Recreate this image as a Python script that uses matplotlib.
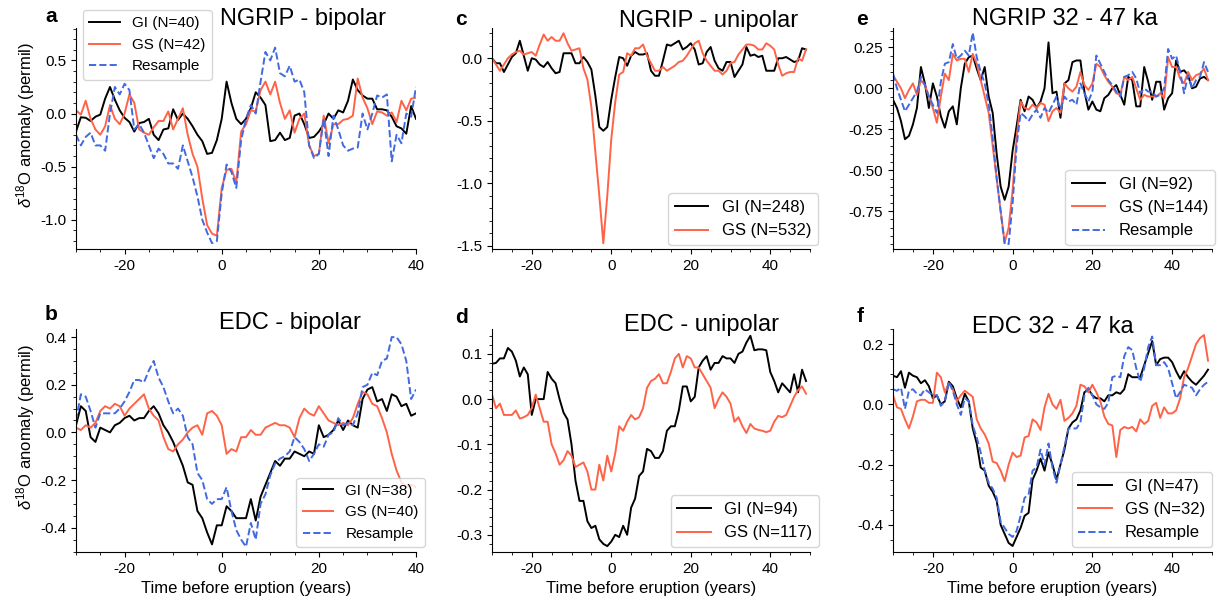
import numpy as np
import matplotlib
matplotlib.use("Agg")
import matplotlib.pyplot as plt
from matplotlib.ticker import AutoMinorLocator, MultipleLocator

plt.rcParams["font.family"] = ["Liberation Sans", "DejaVu Sans"]
plt.rcParams["mathtext.fontset"] = "custom"
plt.rcParams["mathtext.rm"] = "Liberation Sans"
plt.rcParams["mathtext.it"] = "Liberation Sans:italic"
plt.rcParams["axes.unicode_minus"] = False

# years relative to eruption
t_ab = np.arange(-30, 41)
t_cf = np.arange(-30, 50)

# a: NGRIP bipolar
a_gi = [-0.17, -0.035, -0.04, -0.07, -0.03, -0.01, 0.14, 0.25, 0.13, 0.03,
        -0.04, -0.08, -0.17, -0.09, -0.08, -0.05, -0.2, -0.25, -0.15, -0.14,
        0.04, -0.06, 0.0, -0.05, -0.12, -0.2, -0.26, -0.38, -0.37, -0.25,
        -0.05, 0.3, 0.1, -0.05, -0.1, -0.05, 0.05, 0.2, 0.15, 0.08,
        -0.26, -0.25, -0.18, -0.25, -0.23, -0.02, 0.0, -0.1, -0.23, -0.22,
        -0.17, -0.1, 0.0, -0.05, 0.03, 0.01, 0.12, 0.32, 0.22, 0.17,
        0.14, 0.14, 0.04, 0.04, 0.03, -0.03, -0.12, -0.14, -0.19, 0.07, -0.05]
a_gs = [0.03, -0.01, 0.12, -0.05, -0.15, -0.2, -0.12, 0.08, -0.05, -0.1,
        0.0, 0.18, 0.1, -0.15, -0.18, -0.2, -0.13, -0.07, -0.07, 0.02,
        -0.15, -0.05, 0.05, -0.2, -0.38, -0.5, -0.8, -1.05, -1.13, -1.15,
        -0.7, -0.53, -0.52, -0.65, -0.17, -0.1, 0.03, 0.02, 0.22, 0.3,
        0.18, 0.3, 0.1, -0.05, 0.03, -0.18, -0.05, 0.0, -0.3, -0.4,
        -0.38, -0.02, -0.28, -0.1, -0.1, -0.06, -0.05, -0.02, 0.33, 0.15,
        0.05, -0.1, 0.02, 0.01, -0.02, 0.01, -0.08, 0.12, 0.03, 0.14, 0.15]
a_rs = [-0.2, -0.3, -0.22, -0.18, -0.3, -0.3, -0.35, 0.0, 0.25, 0.18,
        0.28, 0.22, -0.15, -0.1, -0.18, -0.3, -0.42, -0.33, -0.38, -0.47,
        -0.47, -0.52, -0.3, -0.45, -0.6, -0.78, -1.0, -1.12, -1.22, -1.2,
        -0.75, -0.48, -0.55, -0.7, -0.25, -0.05, 0.08, 0.0, 0.3, 0.58,
        0.5, 0.62, 0.38, 0.35, 0.45, 0.3, 0.32, 0.2, -0.3, -0.42,
        -0.38, -0.05, -0.4, -0.02, -0.15, -0.3, -0.35, -0.33, -0.32, 0.0,
        -0.15, 0.0, 0.17, 0.15, 0.18, -0.45, -0.2, -0.28, 0.0, -0.03, 0.25]

# b: EDC bipolar
b_gi = [0.03, 0.11, 0.09, -0.02, -0.04, 0.02, 0.01, 0.0, 0.03, 0.04,
        0.06, 0.07, 0.05, 0.06, 0.06, 0.09, 0.11, 0.08, 0.03, 0.0,
        -0.04, -0.09, -0.14, -0.21, -0.22, -0.33, -0.36, -0.42, -0.47, -0.39,
        -0.39, -0.31, -0.33, -0.36, -0.36, -0.36, -0.28, -0.37, -0.27, -0.22,
        -0.17, -0.12, -0.14, -0.11, -0.11, -0.08, -0.09, -0.1, -0.08, -0.09,
        0.03, -0.02, -0.01, 0.01, 0.05, 0.01, 0.05, 0.03, 0.02, 0.14,
        0.18, 0.19, 0.13, 0.14, 0.09, 0.16, 0.15, 0.11, 0.12, 0.07, 0.08]
b_gs = [0.02, 0.01, 0.03, 0.02, 0.04, 0.09, 0.11, 0.1, 0.12, 0.11,
        0.07, 0.1, 0.12, 0.14, 0.16, 0.1, 0.07, 0.05, -0.02, -0.07,
        -0.08, -0.05, -0.03, 0.0, 0.02, 0.03, -0.01, 0.08, 0.09, 0.07,
        0.03, -0.09, -0.07, -0.08, -0.02, -0.02, 0.01, -0.01, -0.01, 0.02,
        0.03, 0.04, 0.03, 0.03, 0.02, -0.02, 0.06, 0.1, 0.08, 0.07,
        0.11, 0.08, 0.05, 0.04, 0.03, 0.04, 0.03, 0.06, 0.12, 0.17,
        0.16, 0.12, 0.11, 0.06, 0.0, -0.09, -0.16, -0.21, -0.23, -0.22, -0.23]
b_rs = [0.05, 0.16, 0.15, 0.09, 0.02, 0.08, 0.08, 0.08, 0.08, 0.1,
        0.13, 0.17, 0.22, 0.22, 0.21, 0.26, 0.3, 0.23, 0.19, 0.13,
        0.08, 0.1, 0.07, -0.02, -0.05, -0.17, -0.2, -0.28, -0.3, -0.28,
        -0.28, -0.23, -0.33, -0.41, -0.45, -0.48, -0.38, -0.45, -0.3, -0.26,
        -0.18, -0.13, -0.11, -0.1, -0.08, -0.02, -0.04, -0.07, -0.12, -0.09,
        -0.05, -0.06, -0.01, 0.0, 0.06, 0.03, 0.04, 0.03, 0.08, 0.19,
        0.2, 0.25, 0.24, 0.3, 0.31, 0.4, 0.4, 0.37, 0.3, 0.14, 0.18]

# c: NGRIP unipolar
c_gi = [0.0, -0.04, -0.04, -0.11, -0.05, 0.01, 0.04, 0.14, 0.02, -0.1,
        0.0, -0.01, -0.05, -0.07, -0.03, -0.08, -0.12, -0.11, 0.04, 0.04,
        0.04, -0.04, -0.04, 0.01, -0.03, -0.09, -0.3, -0.55, -0.58, -0.55,
        -0.33, -0.15, 0.01, 0.0, -0.06, 0.02, 0.05, 0.03, 0.03, 0.04,
        -0.1, -0.14, -0.14, -0.02, 0.11, 0.1, 0.12, 0.14, 0.07, 0.09,
        0.12, 0.07, -0.05, -0.04, 0.05, 0.09, -0.02, -0.08, -0.1, -0.03,
        -0.03, -0.15, -0.1, -0.05, 0.09, 0.02, 0.03, 0.01, 0.02, -0.1,
        -0.1, -0.1, 0.0, 0.0, 0.01, -0.01, -0.03, -0.02, 0.08, 0.07]
c_gs = [0.0, -0.05, -0.1, -0.05, 0.0, 0.03, 0.05, 0.06, 0.03, 0.04,
        0.05, 0.02, 0.11, 0.19, 0.14, 0.17, 0.14, 0.14, 0.2, 0.12,
        0.06, 0.07, 0.08, -0.08, -0.17, -0.39, -0.75, -1.1, -1.48, -1.1,
        -0.65, -0.35, -0.13, -0.11, 0.04, 0.02, 0.08, 0.08, 0.11, 0.02,
        -0.04, -0.1, -0.1, -0.07, -0.1, -0.08, -0.06, -0.03, -0.02, 0.02,
        0.07, 0.12, 0.14, 0.04, -0.02, -0.06, -0.1, -0.1, -0.13, -0.1,
        -0.04, -0.03, 0.03, 0.07, 0.11, 0.11, 0.1, 0.07, 0.07, 0.12,
        0.1, 0.07, -0.05, -0.14, -0.12, -0.11, -0.11, 0.0, -0.02, 0.07]

# d: EDC unipolar
d_gi = [0.078, 0.08, 0.09, 0.09, 0.113, 0.105, 0.085, 0.05, 0.07, 0.055,
        -0.035, 0.0, 0.0, 0.0, 0.06, 0.045, 0.035, 0.0, -0.03, -0.045,
        -0.1, -0.18, -0.225, -0.225, -0.27, -0.285, -0.28, -0.31, -0.32, -0.325,
        -0.315, -0.3, -0.305, -0.28, -0.3, -0.24, -0.22, -0.17, -0.16, -0.11,
        -0.115, -0.13, -0.13, -0.115, -0.07, -0.06, -0.06, -0.025, 0.028, 0.028,
        -0.005, 0.005, 0.07, 0.085, 0.095, 0.065, 0.08, 0.08, 0.095, 0.09,
        0.09, 0.08, 0.1, 0.105, 0.125, 0.14, 0.108, 0.11, 0.11, 0.108,
        0.06, 0.04, 0.015, 0.035, 0.025, 0.015, 0.055, 0.015, 0.065, 0.04]
d_gs = [0.01, -0.02, -0.01, -0.035, -0.035, -0.035, -0.025, -0.043, -0.04, -0.035,
        -0.02, 0.01, -0.02, -0.05, -0.05, -0.1, -0.12, -0.145, -0.135, -0.115,
        -0.125, -0.15, -0.145, -0.14, -0.16, -0.2, -0.2, -0.145, -0.18, -0.125,
        -0.16, -0.12, -0.06, -0.07, -0.05, -0.035, -0.045, -0.04, -0.02, 0.025,
        0.04, 0.045, 0.055, 0.035, 0.035, 0.06, 0.09, 0.1, 0.07, 0.095,
        0.09, 0.07, 0.07, 0.055, 0.04, 0.025, -0.02, 0.0, 0.015, 0.005,
        -0.01, -0.05, -0.04, -0.06, -0.075, -0.055, -0.065, -0.068, -0.07, -0.073,
        -0.07, -0.05, -0.037, -0.04, -0.035, -0.015, 0.005, 0.02, 0.028, 0.012]

# e: NGRIP 32 - 47 ka
e_gi = [-0.07, -0.12, -0.2, -0.31, -0.29, -0.22, -0.12, 0.13, 0.03, -0.12,
        0.03, -0.05, -0.17, -0.24, -0.14, -0.11, -0.22, 0.0, 0.15, 0.19,
        0.2, 0.12, 0.05, 0.13, -0.05, -0.15, -0.4, -0.6, -0.68, -0.6,
        -0.38, -0.23, -0.07, -0.14, -0.05, -0.07, -0.12, -0.08, 0.0, 0.28,
        -0.03, -0.02, -0.18, 0.03, 0.05, 0.16, 0.17, 0.17, -0.02, -0.13,
        -0.08, -0.13, -0.14, -0.06, -0.04, 0.0, 0.02, -0.04, -0.1, 0.07,
        0.05, -0.11, -0.11, 0.13, 0.04, -0.07, 0.04, 0.04, -0.13, -0.06,
        -0.03, 0.17, 0.1, 0.11, 0.08, 0.0, 0.01, 0.06, 0.07, 0.05]
e_gs = [0.08, 0.04, 0.0, -0.06, -0.01, 0.03, -0.04, 0.05, 0.02, -0.05,
        -0.12, -0.21, -0.05, 0.09, 0.05, 0.21, 0.17, 0.18, 0.18, 0.1,
        0.21, 0.15, 0.05, -0.05, -0.15, -0.35, -0.55, -0.75, -0.94, -0.85,
        -0.62, -0.3, -0.08, -0.12, -0.13, -0.1, -0.12, -0.09, -0.1, -0.2,
        -0.14, -0.12, -0.15, 0.03, 0.0, -0.02, 0.01, 0.1, 0.02, -0.01,
        0.03, 0.15, 0.13, 0.08, 0.04, 0.01, -0.03, -0.04, 0.07, 0.05,
        0.07, 0.0, -0.07, -0.04, -0.05, -0.05, -0.05, -0.03, -0.06, 0.19,
        0.13, 0.13, 0.06, 0.03, 0.1, 0.05, 0.08, 0.09, 0.12, 0.05]
e_rs = [0.09, 0.0, -0.07, -0.14, -0.1, -0.06, -0.02, 0.07, 0.02, -0.05,
        -0.1, -0.15, 0.04, 0.15, 0.16, 0.27, 0.18, 0.2, 0.23, 0.2,
        0.34, 0.19, 0.1, 0.03, -0.1, -0.3, -0.55, -0.75, -0.95, -0.95,
        -0.7, -0.35, -0.15, -0.17, -0.2, -0.16, -0.13, -0.18, -0.12, -0.15,
        -0.1, -0.05, -0.13, -0.05, -0.08, -0.07, -0.1, 0.03, -0.03, -0.08,
        -0.02, 0.2, 0.15, 0.1, 0.05, 0.02, -0.02, -0.05, 0.07, 0.08,
        0.1, 0.06, -0.03, 0.0, -0.02, -0.02, -0.05, -0.04, 0.0, 0.24,
        0.18, 0.2, 0.1, -0.03, 0.08, 0.0, 0.05, 0.07, 0.16, 0.1]

# f: EDC 32 - 47 ka
f_gi = [0.095, 0.09, 0.11, 0.055, 0.105, 0.095, 0.09, 0.07, 0.08, 0.06,
        0.02, 0.03, 0.0, 0.01, 0.075, 0.06, 0.02, -0.01, 0.035, 0.01,
        -0.08, -0.13, -0.21, -0.22, -0.27, -0.29, -0.32, -0.4, -0.43, -0.46,
        -0.47, -0.44, -0.41, -0.37, -0.36, -0.25, -0.22, -0.18, -0.22, -0.16,
        -0.2, -0.25, -0.2, -0.15, -0.08, -0.06, -0.05, -0.02, 0.04, 0.05,
        0.03, 0.02, 0.02, 0.01, 0.03, 0.03, 0.04, 0.035, 0.05, 0.1,
        0.09, 0.09, 0.09, 0.13, 0.17, 0.21, 0.13, 0.15, 0.155, 0.155,
        0.14, 0.11, 0.085, 0.11, 0.09, 0.075, 0.065, 0.08, 0.095, 0.115]
f_gs = [0.03, -0.01, -0.015, -0.05, -0.08, -0.04, 0.01, 0.015, 0.015, 0.005,
        0.005, 0.105, 0.09, 0.04, 0.07, 0.05, 0.01, 0.03, 0.045, 0.035,
        0.025, -0.05, -0.08, -0.1, -0.13, -0.19, -0.195, -0.22, -0.255, -0.2,
        -0.16, -0.175, -0.17, -0.11, -0.105, -0.05, -0.06, -0.085, -0.01, 0.035,
        0.0, -0.015, 0.015, -0.055, -0.045, -0.03, -0.005, 0.065, 0.06, 0.04,
        0.065, 0.04, 0.01, -0.04, -0.065, -0.07, -0.175, -0.085, -0.075, -0.08,
        -0.075, -0.09, -0.05, -0.065, -0.055, -0.005, 0.005, -0.045, -0.01, -0.03,
        -0.03, -0.02, 0.02, 0.09, 0.12, 0.16, 0.2, 0.22, 0.23, 0.145]
f_rs = [0.05, 0.045, 0.055, -0.015, 0.045, 0.05, 0.035, 0.03, 0.05, 0.04,
        0.03, 0.03, -0.005, 0.01, 0.075, 0.045, 0.0, -0.035, 0.02, 0.01,
        -0.07, -0.11, -0.16, -0.22, -0.26, -0.28, -0.31, -0.39, -0.41, -0.43,
        -0.44, -0.42, -0.37, -0.31, -0.3, -0.22, -0.21, -0.15, -0.2, -0.13,
        -0.21, -0.26, -0.2, -0.14, -0.08, -0.08, -0.08, -0.06, 0.03, 0.055,
        0.03, 0.0, -0.01, -0.015, 0.005, 0.09, 0.095, 0.09, 0.16, 0.19,
        0.18, 0.12, 0.075, 0.12, 0.19, 0.225, 0.13, 0.13, 0.14, 0.12,
        0.07, 0.02, 0.04, 0.065, 0.06, 0.055, 0.03, 0.05, 0.065, 0.075]

labels = {
    "a": ["GI (N=40)", "GS (N=42)", "Resample"],
    "b": ["GI (N=38)", "GS (N=40)", "Resample"],
    "c": ["GI (N=248)", "GS (N=532)"],
    "d": ["GI (N=94)", "GS (N=117)"],
    "e": ["GI (N=92)", "GS (N=144)", "Resample"],
    "f": ["GI (N=47)", "GS (N=32)", "Resample"],
}

W, H = 1219, 603
C_GI, C_GS, C_RS = "black", "tomato", "royalblue"

# letter, rect px (left, top, right, bottom), x, series, ylim, ymajor,
# title, title pos (axes frac), letter pos px, legend (loc, anchor, size)
panels = [
    ("a", (76, 28, 416, 249), t_ab, [a_gi, a_gs, a_rs], (-1.275, 0.805), 0.5,
     "NGRIP - bipolar", (0.668, 1.014), (45, 22), ("upper left", (0.021, 1.081), 11)),
    ("b", (76, 329, 416, 552), t_ab, [b_gi, b_gs, b_rs], (-0.502, 0.434), 0.2,
     "EDC - bipolar", (0.63, 1.0), (45, 320), ("lower right", (1.026, 0.022), 11)),
    ("c", (492, 28, 810, 249), t_cf, [c_gi, c_gs], (-1.526, 0.242), 0.5,
     "NGRIP - unipolar", (0.682, 1.006), (455, 25), ("lower right", (1.025, 0.018), 12)),
    ("d", (492, 329, 810, 552), t_cf, [d_gi, d_gs], (-0.338, 0.155), 0.1,
     "EDC - unipolar", (0.66, 0.993), (455, 323), ("lower right", (1.028, 0.022), 12)),
    ("e", (893, 28, 1212, 249), t_cf, [e_gi, e_gs, e_rs], (-0.98, 0.368), 0.25,
     "NGRIP 32 - 47 ka", (0.539, 1.014), (856, 25), ("lower right", (1.009, 0.018), 12)),
    ("f", (893, 329, 1212, 552), t_cf, [f_gi, f_gs, f_rs], (-0.49, 0.25), 0.2,
     "EDC 32 - 47 ka", (0.50, 0.982), (857, 322), ("lower right", (1.0, 0.022), 12)),
]

fig = plt.figure(figsize=(W / 100, H / 100), dpi=100)

for key, (l, t, r, b), x, series, ylim, ystep, title, tpos, lpos, leg in panels:
    ax = fig.add_axes([l / W, 1 - b / H, (r - l) / W, (b - t) / H])
    styles = [dict(color=C_GI, lw=1.4), dict(color=C_GS, lw=1.4),
              dict(color=C_RS, lw=1.4, ls="--")]
    for y, st, lab in zip(series, styles, labels[key]):
        ax.plot(x, y, label=lab, **st)

    ax.set_xlim(x[0], 40 if x[-1] <= 40 else 50)
    ax.set_ylim(*ylim)
    ax.xaxis.set_major_locator(MultipleLocator(20))
    ax.yaxis.set_major_locator(MultipleLocator(ystep))
    ax.xaxis.set_minor_locator(AutoMinorLocator())
    ax.yaxis.set_minor_locator(AutoMinorLocator())
    ax.tick_params(labelsize=11, colors="black")
    for s in ("top", "right"):
        ax.spines[s].set_visible(False)

    ax.text(tpos[0], tpos[1], title, transform=ax.transAxes, ha="center",
            va="baseline", fontsize=17)
    fig.text(lpos[0] / W, 1 - lpos[1] / H, key, fontsize=15, fontweight="bold",
             ha="left", va="baseline")

    loc, anchor, fs = leg
    ax.legend(loc=loc, bbox_to_anchor=anchor, borderaxespad=0, fontsize=fs)

    if key in ("a", "b"):
        ax.set_ylabel(r"$\delta^{18}$O anomaly (permil)", fontsize=12)
        ax.yaxis.set_label_coords(-0.115, 0.56)
    if key in ("b", "d", "f"):
        ax.set_xlabel("Time before eruption (years)", fontsize=12, labelpad=4)

fig.savefig("out.png", dpi=100)
